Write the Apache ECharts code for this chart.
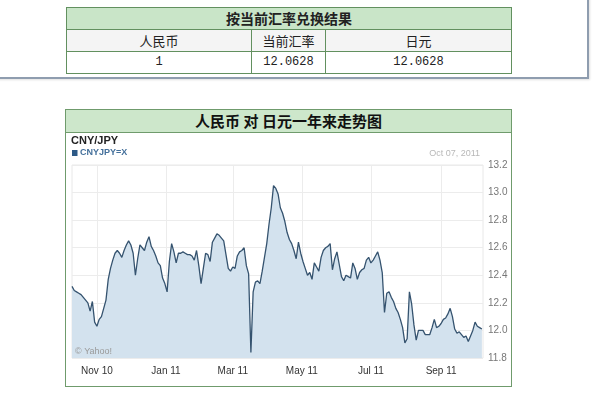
<!DOCTYPE html>
<html>
<head>
<meta charset="utf-8">
<script src="https://cdn.jsdelivr.net/npm/echarts@6/dist/echarts.min.js"></script>
<style>
  html, body { margin: 0; padding: 0; width: 600px; height: 395px; background: #fff; overflow: hidden; }
  #frame { position: absolute; left: -10px; top: -10px; width: 597px; height: 87px;
           border-right: 2px solid #8f9daf; border-bottom: 2px solid #8f9daf;
           box-shadow: 1px 1px 2px rgba(0,0,0,0.12); }
  #conv { position: absolute; left: 66px; top: 7px; width: 445px; border-collapse: collapse;
          table-layout: fixed; font-family: "Noto Sans CJK SC", sans-serif; color: #222; }
  #conv td { border: 1px solid #62905f; height: 21px; padding: 0; text-align: center;
             font-size: 13px; line-height: 21px; }
  #conv .head td { background: #c9e5c8; font-weight: bold; font-size: 14px; }
  #conv .cols td { background: #f4f4f4; }
  #conv .vals td { background: #fff; font-family: "Liberation Mono", monospace; font-size: 12px; }
  #panel { position: absolute; left: 65px; top: 109px; width: 445px; height: 276px;
           border: 1px solid #6f9b6c; background: #fff; }
  #panel .bar { height: 22px; line-height: 22px; background: #cde7cb; border-bottom: 1px solid #6f9b6c;
                text-align: center; font-family: "Noto Sans CJK SC", sans-serif; font-weight: bold;
                font-size: 15px; color: #111; white-space: pre; }
  #chart { position: absolute; left: 0; top: 0; width: 600px; height: 395px; z-index: 2; }
</style>
</head>
<body>
<div id="frame"></div>
<table id="conv">
  <colgroup><col style="width:185px"><col style="width:74px"><col style="width:186px"></colgroup>
  <tr class="head"><td colspan="3" id="convTitle"></td></tr>
  <tr class="cols"><td></td><td></td><td></td></tr>
  <tr class="vals"><td></td><td></td><td></td></tr>
</table>
<div id="panel"><div class="bar" id="panelTitle"></div></div>
<div id="chart"></div>
<script>
// Conversion table
const convTitle = '按当前汇率兑换结果';
const convHeaders = ['人民币', '当前汇率', '日元'];
const convValues = ['1', '12.0628', '12.0628'];
const panelTitle = '人民币 对 日元一年来走势图';

// CNY/JPY closes, one every STEP_DAYS calendar days from START
const START = [2010, 9, 10];   // year, month (0-based), day
const STEP_DAYS = 2;
const rates = [
  12.32, 12.29, 12.28, 12.27, 12.26, 12.24, 12.22, 12.20, 12.14, 12.21,
  12.06, 12.03, 12.08, 12.10, 12.16, 12.22, 12.37, 12.45, 12.51, 12.56,
  12.58, 12.56, 12.53, 12.58, 12.62, 12.65, 12.62, 12.56, 12.40, 12.52,
  12.62, 12.60, 12.58, 12.64, 12.68, 12.61, 12.58, 12.54, 12.49, 12.47,
  12.38, 12.34, 12.28, 12.50, 12.63, 12.57, 12.49, 12.56, 12.56, 12.57,
  12.56, 12.55, 12.55, 12.54, 12.51, 12.58, 12.47, 12.34, 12.45, 12.56,
  12.55, 12.50, 12.64, 12.67, 12.70, 12.69, 12.67, 12.65, 12.55, 12.45,
  12.43, 12.46, 12.45, 12.54, 12.57, 12.58, 12.60, 12.47, 12.41, 11.84,
  12.28, 12.35, 12.36, 12.34, 12.43, 12.53, 12.63, 12.77, 12.89, 13.05,
  13.03, 12.99, 12.89, 12.85, 12.79, 12.71, 12.66, 12.63, 12.58, 12.52,
  12.64, 12.56, 12.50, 12.45, 12.40, 12.42, 12.37, 12.49, 12.46, 12.43,
  12.53, 12.58, 12.60, 12.61, 12.63, 12.44, 12.52, 12.57, 12.48, 12.39,
  12.36, 12.40, 12.39, 12.38, 12.49, 12.45, 12.37, 12.42, 12.44, 12.45,
  12.51, 12.53, 12.49, 12.51, 12.54, 12.57, 12.51, 12.42, 12.13, 12.27,
  12.28, 12.24, 12.21, 12.16, 12.13, 12.08, 12.02, 11.91, 11.94, 12.28,
  12.19, 12.04, 11.93, 12.00, 12.00, 12.00, 11.97, 11.97, 11.97, 12.02,
  12.08, 12.02, 12.03, 12.05, 12.08, 12.09, 12.12, 12.16, 12.10, 12.01,
  11.98, 11.99, 11.97, 11.95, 11.96, 11.92, 11.96, 12.00, 12.06, 12.03,
  12.02, 12.01
];

// Axis settings
const xTickDates = [[2010, 10, 1], [2011, 0, 1], [2011, 2, 1], [2011, 4, 1], [2011, 6, 1], [2011, 8, 1]];
const xRange = [[2010, 9, 10], [2011, 9, 8]];
const yMin = 11.8, yMax = 13.2, yStep = 0.2;
const MONTHS = ['Jan','Feb','Mar','Apr','May','Jun','Jul','Aug','Sep','Oct','Nov','Dec'];

// Fill the HTML table
document.getElementById('convTitle').textContent = convTitle;
document.querySelectorAll('#conv .cols td').forEach((td, i) => td.textContent = convHeaders[i]);
document.querySelectorAll('#conv .vals td').forEach((td, i) => td.textContent = convValues[i]);
document.getElementById('panelTitle').textContent = panelTitle;

const ts = (d) => new Date(d[0], d[1], d[2]).getTime();
const startTs = ts(START);
const DAY = 86400000;
const seriesData = rates.map((v, i) => [startTs + i * STEP_DAYS * DAY, v]);
const lastDate = new Date(seriesData[seriesData.length - 1][0]);
const pad2 = (n) => (n < 10 ? '0' : '') + n;
const lastLabel = MONTHS[lastDate.getMonth()] + ' ' + pad2(lastDate.getDate()) + ', ' + lastDate.getFullYear();
const tickValues = xTickDates.map(ts);

const chart = echarts.init(document.getElementById('chart'), null, { renderer: 'canvas' });
chart.setOption({
  animation: false,
  backgroundColor: 'transparent',
  textStyle: { fontFamily: 'Liberation Sans, Arial, sans-serif' },
  grid: { left: 72, right: 117, top: 165, bottom: 37, show: true,
          borderColor: '#e8e8e8', borderWidth: 1, backgroundColor: 'transparent' },
  xAxis: {
    type: 'value',   // millisecond timestamps, month labels placed explicitly
    min: ts(xRange[0]),
    max: ts(xRange[1]),
    axisLine: { show: false },
    axisTick: { show: false, customValues: tickValues },
    splitLine: { show: true, lineStyle: { color: '#ececec', width: 1 } },
    axisLabel: {
      customValues: tickValues,
      color: '#333',
      fontSize: 10,
      margin: 8,
      formatter: (v) => {
        const d = new Date(v);
        return MONTHS[d.getMonth()] + ' ' + String(d.getFullYear()).slice(2);
      }
    }
  },
  yAxis: {
    type: 'value',
    position: 'right',
    min: yMin,
    max: yMax,
    interval: yStep,
    axisLine: { show: false },
    axisTick: { show: false },
    splitLine: { show: true, lineStyle: { color: '#ececec', width: 1 } },
    axisLabel: { color: '#777', fontSize: 10, margin: 5, formatter: (v) => v.toFixed(1) }
  },
  series: [{
    type: 'line',
    data: seriesData,
    showSymbol: false,
    smooth: false,
    lineStyle: { color: '#35536f', width: 1.3 },
    areaStyle: { color: '#d3e2ee', opacity: 1 }
  }],
  graphic: [
    { type: 'text', z: 100, left: 71, top: 135,
      style: { text: 'CNY/JPY', font: 'bold 11px "Liberation Sans", Arial', fill: '#222' } },
    { type: 'rect', z: 100, shape: { x: 72, y: 150, width: 5.5, height: 6 },
      style: { fill: '#2d5a87' } },
    { type: 'text', z: 100, left: 80, top: 148,
      style: { text: 'CNYJPY=X', font: 'bold 9px "Liberation Sans", Arial', fill: '#44709b' } },
    { type: 'text', z: 100, right: 120, top: 149,
      style: { text: lastLabel, font: '9px "Liberation Sans", Arial', fill: '#b8b8b8' } },
    { type: 'text', z: 100, left: 75, top: 347,
      style: { text: '© Yahoo!', font: '9px "Liberation Sans", Arial', fill: '#9a9a9a' } }
  ]
});
</script>
</body>
</html>
